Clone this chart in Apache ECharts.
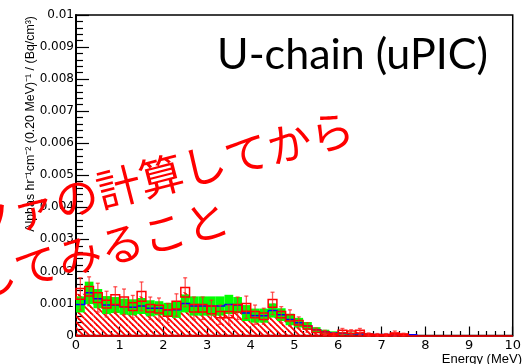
<!DOCTYPE html>
<html>
<head>
<meta charset="utf-8">
<script src="https://cdn.jsdelivr.net/npm/echarts@6/dist/echarts.min.js"></script>
<style>
  html, body { margin: 0; padding: 0; background: #fff; }
  #chart { width: 524px; height: 364px; }
</style>
</head>
<body>
<div id="chart"></div>
<script>
// Alpha energy spectrum, U-chain (uPIC), 0.20 MeV bins starting at 0 MeV
const BIN_WIDTH = 0.2;

// measured spectrum: bin content, systematic box half-height, error-bar half-length
const dataValue = [0.00130, 0.00138, 0.00118, 0.00098, 0.00112, 0.00105, 0.00090, 0.00122, 0.00085, 0.00082,
                   0.00070, 0.00095, 0.00135, 0.00085, 0.00085, 0.00080, 0.00065, 0.00065, 0.00085, 0.00088,
                   0.00065, 0.00060, 0.00100, 0.00065, 0.00055, 0.00040, 0.00025, 0.00013, 0.00008, 0.00004,
                   0.00012, 0.00010, 0.00012, 0.00003, 0.00002, 0.00002, 0.00006, 0.00003, 0.00000];
const dataSyst  = [0.00017, 0.00015, 0.00015, 0.00012, 0.00015, 0.00015, 0.00012, 0.00015, 0.00012, 0.00012,
                   0.00010, 0.00012, 0.00015, 0.00012, 0.00012, 0.00012, 0.00010, 0.00010, 0.00012, 0.00012,
                   0.00010, 0.00010, 0.00012, 0.00010, 0.00010, 0.00007, 0.00005, 0.00004, 0.00003, 0.00002,
                   0.00004, 0.00004, 0.00004, 0.00002, 0.00001, 0.00001, 0.00002, 0.00002, 0.00000];
const dataError = [0.00050, 0.00045, 0.00045, 0.00040, 0.00040, 0.00040, 0.00035, 0.00045, 0.00035, 0.00035,
                   0.00030, 0.00035, 0.00045, 0.00035, 0.00035, 0.00030, 0.00030, 0.00030, 0.00035, 0.00035,
                   0.00030, 0.00025, 0.00035, 0.00025, 0.00025, 0.00018, 0.00015, 0.00010, 0.00008, 0.00005,
                   0.00010, 0.00008, 0.00010, 0.00005, 0.00004, 0.00004, 0.00008, 0.00004, 0.00000];

// simulated spectrum: central value and uncertainty band half-width
const mcValue   = [0.00097, 0.00133, 0.00115, 0.00095, 0.00095, 0.00090, 0.00088, 0.00092, 0.00085, 0.00085,
                   0.00080, 0.00080, 0.00100, 0.00092, 0.00092, 0.00092, 0.00092, 0.00097, 0.00095, 0.00070,
                   0.00062, 0.00062, 0.00078, 0.00065, 0.00050, 0.00040, 0.00030, 0.00018, 0.00012, 0.00008,
                   0.00006, 0.00005, 0.00005, 0.00004, 0.00003, 0.00003, 0.00002, 0.00002, 0.00002];
const mcBand    = [0.00025, 0.00035, 0.00030, 0.00028, 0.00025, 0.00025, 0.00025, 0.00025, 0.00025, 0.00022,
                   0.00022, 0.00025, 0.00028, 0.00030, 0.00030, 0.00030, 0.00030, 0.00030, 0.00025, 0.00025,
                   0.00022, 0.00022, 0.00022, 0.00020, 0.00018, 0.00015, 0.00012, 0.00008, 0.00006, 0.00005,
                   0.00004, 0.00004, 0.00003, 0.00003, 0.00002, 0.00002, 0.00002, 0.00002, 0.00002];

const xTicks = { min: 0, max: 10, interval: 1 };
const yTicks = { min: 0, max: 0.01, interval: 0.001 };

const titleText = 'U-chain (uPIC)';
const yTitle = 'Alphas hr⁻¹cm⁻² (0.20 MeV)⁻¹ / (Bq/cm³)';
const xTitle = 'Energy (MeV)';
const noteLine1 = 'クァの計算してから';
const noteLine2 = 'してみること';

// rows: [low edge, high edge, value, ...]
const binLow = i => i * BIN_WIDTH;
const hatchRows = dataValue.map((v, i) => [binLow(i), binLow(i) + BIN_WIDTH, v]);
const bandRows = mcValue.map((v, i) => [binLow(i), binLow(i) + BIN_WIDTH, v - mcBand[i], v + mcBand[i]]);
const mcRows = mcValue.map((v, i) => [binLow(i), binLow(i) + BIN_WIDTH, v,
                                       i + 1 < mcValue.length ? mcValue[i + 1] : 0]);
const boxRows = dataValue.map((v, i) => [binLow(i), binLow(i) + BIN_WIDTH, v - dataSyst[i], v + dataSyst[i]])
                         .filter((r, i) => dataValue[i] > 0);
const errRows = dataValue.map((v, i) => [binLow(i) + BIN_WIDTH / 2, v - dataError[i], v + dataError[i]])
                         .filter((r, i) => dataValue[i] > 0);

// diagonal red hatching for the measured histogram
function makeHatch() {
  const c = document.createElement('canvas');
  const n = 6;
  c.width = n; c.height = n;
  const g = c.getContext('2d');
  g.strokeStyle = '#ff0000';
  g.lineWidth = 1.8;
  for (const k of [-n, 0, n]) {
    g.beginPath();
    g.moveTo(k - 1, -1);
    g.lineTo(k + n + 1, n + 1);
    g.stroke();
  }
  return c;
}
const hatch = { image: makeHatch(), repeat: 'repeat' };

function rectBetween(api, x0, y0, x1, y1) {
  const p0 = api.coord([x0, y1]);
  const p1 = api.coord([x1, y0]);
  return { x: p0[0], y: p0[1], width: p1[0] - p0[0], height: p1[1] - p0[1] };
}

const noteStyle = { font: '44px "Noto Sans CJK JP"', fill: '#ff0000',
                    align: 'left', textAlign: 'left', verticalAlign: 'top', textVerticalAlign: 'top' };

const chart = echarts.init(document.getElementById('chart'), null, { renderer: 'canvas' });

chart.setOption({
  animation: false,
  backgroundColor: '#fff',
  grid: { left: 76, top: 15, width: 445, height: 320.5, show: true, borderColor: '#000', borderWidth: 1.5 },
  xAxis: {
    type: 'value', min: xTicks.min, max: xTicks.max, interval: xTicks.interval,
    axisLine: { show: true, onZero: false, lineStyle: { color: '#000', width: 1.5 } },
    axisTick: { show: true, inside: true, length: 9, lineStyle: { color: '#000', width: 1.2 } },
    minorTick: { show: true, splitNumber: 5, length: 4.5, lineStyle: { color: '#000', width: 1.2 } },
    axisLabel: { show: true, margin: 4, color: '#000', fontFamily: 'DejaVu Sans', fontSize: 13,
                 showMinLabel: true, showMaxLabel: true },
    splitLine: { show: false }
  },
  yAxis: {
    type: 'value', min: yTicks.min, max: yTicks.max, interval: yTicks.interval,
    axisLine: { show: true, lineStyle: { color: '#000', width: 2 } },
    axisTick: { show: true, inside: true, length: 13, lineStyle: { color: '#000', width: 1.2 } },
    minorTick: { show: true, splitNumber: 5, length: 7, lineStyle: { color: '#000', width: 1.2 } },
    axisLabel: { show: true, margin: 2, color: '#000', fontFamily: 'DejaVu Sans', fontSize: 12,
                 formatter: v => v === 0 ? '0' : String(+v.toFixed(3)) },
    splitLine: { show: false }
  },
  graphic: [
    { type: 'text', x: 31, y: 16, rotation: Math.PI / 2, z: 50,
      style: { text: yTitle, font: '12.4px "Liberation Sans"', fill: '#000',
               align: 'right', textAlign: 'right', verticalAlign: 'middle', textVerticalAlign: 'middle' } },
    { type: 'text', x: 522, y: 353, z: 50,
      style: { text: xTitle, font: '13px "Liberation Sans"', fill: '#000',
               align: 'right', textAlign: 'right', verticalAlign: 'top', textVerticalAlign: 'top' } },
    { type: 'text', x: 217, y: 55, z: 50,
      style: { text: titleText, font: '43px Lato', fill: '#000',
               align: 'left', textAlign: 'left', verticalAlign: 'middle', textVerticalAlign: 'middle' } },
    { type: 'text', x: -36, y: 204, rotation: 0.253, z: 60,
      style: Object.assign({ text: noteLine1 }, noteStyle) },
    { type: 'text', x: -33, y: 261, rotation: 0.253, z: 60,
      style: Object.assign({ text: noteLine2 }, noteStyle) }
  ],
  series: [
    {
      name: 'hatch', type: 'custom', z: 2,
      encode: { x: [0, 1], y: 2 },
      data: hatchRows,
      renderItem: (params, api) => ({
        type: 'rect',
        shape: rectBetween(api, api.value(0), 0, api.value(1), api.value(2)),
        style: { fill: hatch, stroke: null }
      }),
      markLine: {
        silent: true, symbol: 'none', label: { show: false },
        lineStyle: { color: '#ff0000', type: 'solid', width: 1.5 },
        data: [{ yAxis: 0 }]
      }
    },
    {
      name: 'band', type: 'custom', z: 3,
      encode: { x: [0, 1], y: [2, 3] },
      data: bandRows,
      renderItem: (params, api) => ({
        type: 'rect',
        shape: rectBetween(api, api.value(0), api.value(2), api.value(1), api.value(3)),
        style: { fill: '#00ff00', stroke: null }
      })
    },
    {
      name: 'mc', type: 'custom', z: 4,
      encode: { x: [0, 1], y: [2, 3] },
      data: mcRows,
      renderItem: (params, api) => {
        const a = api.coord([api.value(0), api.value(2)]);
        const b = api.coord([api.value(1), api.value(2)]);
        const c = api.coord([api.value(1), api.value(3)]);
        return {
          type: 'polyline',
          shape: { points: [a, b, c] },
          style: { stroke: '#0000ff', lineWidth: 1.5, fill: null }
        };
      }
    },
    {
      name: 'box', type: 'custom', z: 5,
      encode: { x: [0, 1], y: [2, 3] },
      data: boxRows,
      renderItem: (params, api) => ({
        type: 'rect',
        shape: rectBetween(api, api.value(0), api.value(2), api.value(1), api.value(3)),
        style: { fill: null, stroke: '#ff0000', lineWidth: 1.5 }
      })
    },
    {
      name: 'err', type: 'custom', z: 6,
      encode: { x: 0, y: [1, 2] },
      data: errRows,
      renderItem: (params, api) => {
        const lo = api.coord([api.value(0), api.value(1)]);
        const hi = api.coord([api.value(0), api.value(2)]);
        const col = 'rgba(255,30,30,0.75)';
        return {
          type: 'group',
          children: [
            { type: 'line', shape: { x1: lo[0], y1: lo[1], x2: hi[0], y2: hi[1] },
              style: { stroke: col, lineWidth: 1.3 } },
            { type: 'line', shape: { x1: hi[0] - 2, y1: hi[1], x2: hi[0] + 2, y2: hi[1] },
              style: { stroke: col, lineWidth: 1.3 } },
            { type: 'line', shape: { x1: lo[0] - 2, y1: lo[1], x2: lo[0] + 2, y2: lo[1] },
              style: { stroke: col, lineWidth: 1.3 } }
          ]
        };
      }
    }
  ]
});
</script>
</body>
</html>
